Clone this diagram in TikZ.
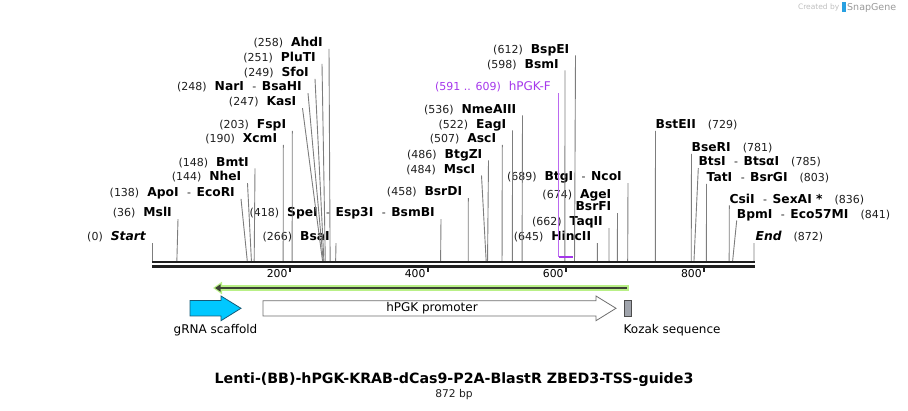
\documentclass[tikz,border=0pt]{standalone}
\usepackage{fontspec}
\setmainfont{DejaVu Sans}
\usetikzlibrary{arrows.meta}

\definecolor{siteline}{RGB}{125,125,125}
\definecolor{numtext}{RGB}{30,30,30}
\definecolor{primerpurple}{RGB}{165,55,235}
\definecolor{orfgreen}{RGB}{185,240,135}
\definecolor{orfdark}{RGB}{60,66,52}
\definecolor{scaffcyan}{RGB}{0,200,255}
\definecolor{scaffedge}{RGB}{20,90,120}
\definecolor{featedge}{RGB}{110,110,110}
\definecolor{kozakgray}{RGB}{160,164,172}
\definecolor{snapblue}{RGB}{40,160,225}

\newcommand\enz[1]{{\fontsize{12.3}{15}\selectfont\bfseries #1}}
\newcommand\cut[1]{{\fontsize{11}{15}\selectfont\color{numtext}#1}}
\newcommand\gap{\hspace{8pt}}
\newcommand\rgap{\hspace{12pt}}
\newcommand\dash{\cut{\hspace{8.5pt}-\hspace{5.5pt}}}

\tikzset{
  labL/.style={anchor=south east, inner xsep=6pt, inner ysep=0pt, text depth=2pt},
  labR/.style={anchor=south west, inner xsep=0pt, inner ysep=0pt, text depth=2pt},
  site/.style={draw=siteline, line width=0.9pt},
  backbone/.style={draw=black!88, line width=2.5pt},
  tick/.style={draw=black!88, line width=1.8pt},
  ticklab/.style={anchor=east, inner sep=0pt, font=\fontsize{10.8}{13}\selectfont},
  featlab/.style={inner sep=0pt, font=\fontsize{12}{14}\selectfont},
  feat/.style={draw=featedge, line width=0.8pt}
}

\begin{document}
\begin{tikzpicture}[x=1pt, y=-1pt]
\useasboundingbox (0,0) rectangle (908,411);

% cut sites on the backbone
\foreach \bp in {0,36,138,144,148,190,203,247,248,249,251,258,266,418,458,484,486,507,522,536,598,612,645,662,674,689,729,781,785,803,836,841,872}
  \coordinate (s\bp) at ({152+0.6904*\bp},261);

% enzymes, left of their lines
\node[labL] (start) at (152,243.2) {\cut{(0)}\gap\enz{\itshape Start}};
\node[labL] (msl)  at (178,219.2)   {\cut{(36)}\gap\enz{MslI}};
\node[labL] (apo)  at (241,198.8)   {\cut{(138)}\gap\enz{ApoI}\dash\enz{EcoRI}};
\node[labL] (nhe)  at (247.5,183.2) {\cut{(144)}\gap\enz{NheI}};
\node[labL] (bmt)  at (255,168.5)   {\cut{(148)}\gap\enz{BmtI}};
\node[labL] (xcm)  at (283.3,144.8) {\cut{(190)}\gap\enz{XcmI}};
\node[labL] (fsp)  at (292.3,130.8) {\cut{(203)}\gap\enz{FspI}};
\node[labL] (kas)  at (302.5,108.2) {\cut{(247)}\gap\enz{KasI}};
\node[labL] (nar)  at (308,93.2)    {\cut{(248)}\gap\enz{NarI}\dash\enz{BsaHI}};
\node[labL] (sfo)  at (315,78.8)    {\cut{(249)}\gap\enz{SfoI}};
\node[labL] (plu)  at (322,63.8)    {\cut{(251)}\gap\enz{PluTI}};
\node[labL] (ahd)  at (329,48.8)    {\cut{(258)}\gap\enz{AhdI}};
\node[labL] (bsa)  at (336,243.2)   {\cut{(266)}\gap\enz{BsaI}};
\node[labL] (spe)  at (441,219.2)   {\cut{(418)}\gap\enz{SpeI}\dash\enz{Esp3I}\dash\enz{BsmBI}};
\node[labL] (bsrd) at (468.3,198.2) {\cut{(458)}\gap\enz{BsrDI}};
\node[labL] (msc)  at (481.5,175.5) {\cut{(484)}\gap\enz{MscI}};
\node[labL] (btgz) at (488.5,160.5) {\cut{(486)}\gap\enz{BtgZI}};
\node[labL] (asc)  at (502.3,144.8) {\cut{(507)}\gap\enz{AscI}};
\node[labL] (eag)  at (512.5,130.5) {\cut{(522)}\gap\enz{EagI}};
\node[labL] (nme)  at (522.5,115.5) {\cut{(536)}\gap\enz{NmeAIII}};
\node[labL] (bsm)  at (565,70.5)    {\cut{(598)}\gap\enz{BsmI}};
\node[labL] (bspe) at (575.5,55.5)  {\cut{(612)}\gap\enz{BspEI}};
\node[labL] (btg)  at (628,183.2)   {\cut{(689)}\gap\enz{BtgI}\dash\enz{NcoI}};
\node[labL, align=right] (age) at (617.5,213.2) {\cut{(674)}\gap\enz{AgeI}\\[0.5pt]\enz{BsrFI}};
\node[labL] (taq)  at (609,228.2)   {\cut{(662)}\gap\enz{TaqII}};
\node[labL] (hinc) at (597.3,243.2) {\cut{(645)}\gap\enz{HincII}};

% enzymes, right of their lines
\node[labR] (bste) at (655.5,130.8) {\enz{BstEII}\rgap\cut{(729)}};
\node[labR] (bser) at (691.5,153.8) {\enz{BseRI}\rgap\cut{(781)}};
\node[labR] (bts)  at (698.3,168.2) {\enz{BtsI}\dash\enz{BtsαI}\rgap\cut{(785)}};
\node[labR] (tat)  at (706.5,183.8) {\enz{TatI}\dash\enz{BsrGI}\rgap\cut{(803)}};
\node[labR] (csi)  at (729.3,205.5) {\enz{CsiI}\dash\enz{SexAI *}\rgap\cut{(836)}};
\node[labR] (bpm)  at (736.7,220.5) {\enz{BpmI}\dash\enz{Eco57MI}\rgap\cut{(841)}};
\node[labR, inner xsep=1.5pt] (end) at (754,243.2) {\enz{\itshape End}\rgap\cut{(872)}};

\foreach \n/\bp in {start/0,msl/36,apo/138,nhe/144,bmt/148,xcm/190,fsp/203,kas/247,nar/248,sfo/249,plu/251,ahd/258,bsa/266,spe/418,bsrd/458,msc/484,btgz/486,asc/507,eag/522,nme/536,bsm/598,bspe/612,btg/689,age/674,taq/662,hinc/645}
  \draw[site] (\n.south east) -- (s\bp);
\foreach \n/\bp in {bste/729,bser/781,bts/785,tat/803,csi/836,bpm/841,end/872}
  \draw[site] (\n.south west) -- (s\bp);

% primer
\node[labL, inner xsep=7.5pt, text=primerpurple] (pgkf) at (558.5,93.2)
  {{\fontsize{11}{15}\selectfont(591 .. 609)}\gap{\fontsize{12}{15}\selectfont hPGK-F}};
\coordinate (p591) at (558.5,257.5);
\coordinate (p609) at (572.7,257.5);
\draw[primerpurple!75, line width=1.3pt] (pgkf.south east) -- (p591);
\draw[primerpurple, line width=2pt] (p591) -- (p609);

% backbone and ruler
\draw[backbone] (152,262) -- (755,262);
\draw[backbone] (152,266.3) -- (755,266.3);
\foreach \t in {200,400,600,800} {
  \draw[tick] ({152+0.6904*\t},267) -- ++(0,5.5);
  \node[ticklab] (tk\t) at ({152+0.6904*\t-2.5},274) {\t};
}

% features
\coordinate (orfR) at (628.5,288);
\coordinate (orfL) at (213,288);
\coordinate (orfT) at (215,288);
\draw[orfgreen, line width=6.5pt, -{Triangle[length=9pt,width=12pt]}] (orfR) -- (orfL);
\draw[orfdark, line width=2.5pt, -{Triangle[length=5.5pt,width=7pt]}] ([xshift=-1.5pt]orfR) -- (orfT);

\draw[feat, draw=scaffedge, fill=scaffcyan] (190,300.5) -- (221,300.5) -- (221,296) -- (241,308.3)
  -- (221,320.7) -- (221,316) -- (190,316) -- cycle;
\node[featlab] (scaff) at (215.5,330) {gRNA scaffold};

\draw[feat, fill=white] (263,300.7) -- (596,300.7) -- (596,296) -- (616,308.3)
  -- (596,320.7) -- (596,316) -- (263,316) -- cycle;
\node[featlab] (pgk) at (432,308.3) {hPGK promoter};

\draw[feat, draw=black!70, fill=kozakgray] (624.3,300) rectangle (631.7,316.7);
\node[featlab, anchor=west] (kozak) at (623.5,330) {Kozak sequence};

% title
\node[inner sep=0pt, font=\fontsize{14.2}{17}\selectfont\bfseries] (title) at (454,380)
  {Lenti-(BB)-hPGK-KRAB-dCas9-P2A-BlastR ZBED3-TSS-guide3};
\node[inner sep=0pt, font=\fontsize{10.7}{13}\selectfont, text=numtext] (size) at (454,394.3) {872 bp};

% credit
\node[inner sep=0pt, anchor=east, font=\fontsize{7.5}{9}\selectfont, text=black!25] (made) at (839.5,7.5) {Created by};
\fill[snapblue] (842,2.5) rectangle (845.5,12.5);
\node[inner sep=0pt, anchor=west, font=\fontsize{9.5}{11}\selectfont, text=black!40] (snap) at (847,7.5) {SnapGene};
\end{tikzpicture}
\end{document}
